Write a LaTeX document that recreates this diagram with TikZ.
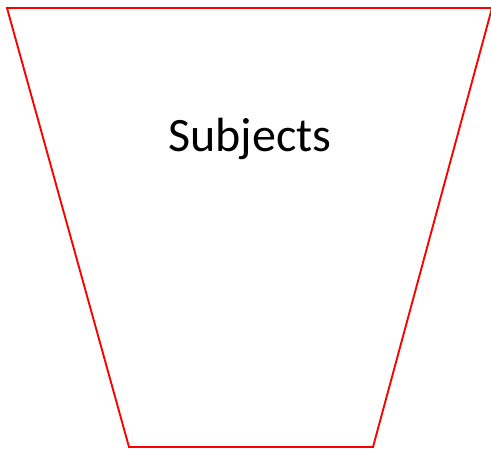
\documentclass[tikz,border=0pt]{standalone}
\usepackage{fontspec}
\setmainfont{Carlito}
\usetikzlibrary{positioning}
\begin{document}
\begin{tikzpicture}[x=1pt,y=1pt,font=\fontsize{48}{58}\selectfont]
\useasboundingbox (0,0) rectangle (491,450);
\coordinate (tl) at (7,442);
\coordinate (tr) at (492,442);
\coordinate (br) at (373,3);
\coordinate (bl) at (129,3);
\draw[red,line width=1.9pt] (tl)--(tr)--(br)--(bl)--cycle;
\node (subj) at (250,311) {Subjects};
\end{tikzpicture}
\end{document}
